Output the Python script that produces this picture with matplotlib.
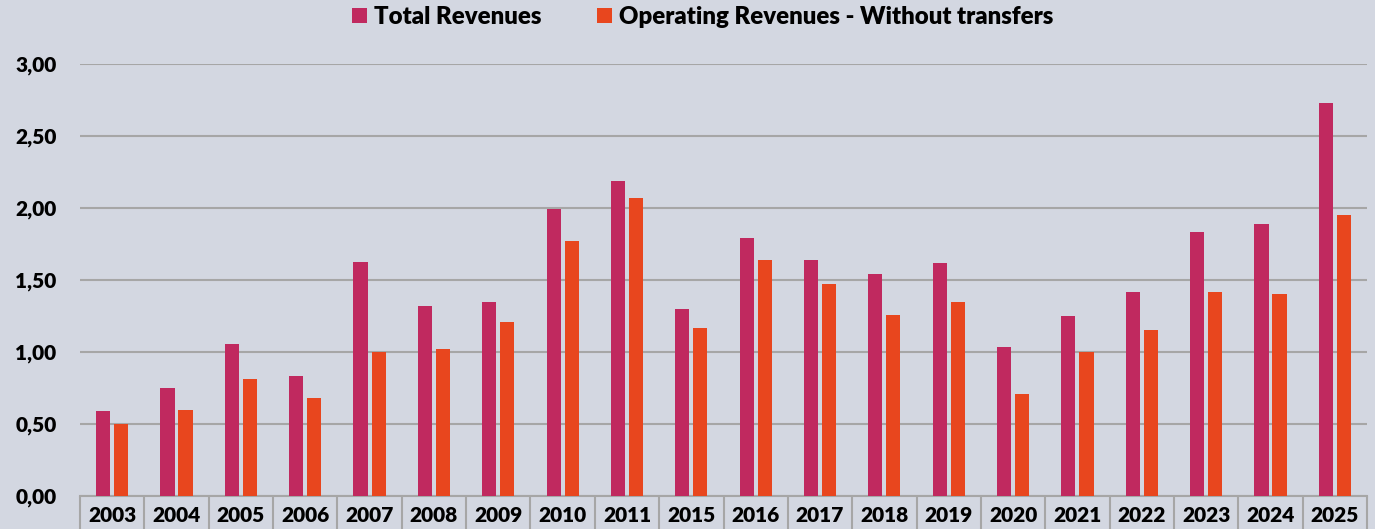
import matplotlib.pyplot as plt
import matplotlib.transforms as mtransforms
import numpy as np

years = ['2003', '2004', '2005', '2006', '2007', '2008', '2009', '2010', '2011', '2015',
         '2016', '2017', '2018', '2019', '2020', '2021', '2022', '2023', '2024', '2025']
total_revenues = [0.59, 0.75, 1.055, 0.83, 1.625, 1.32, 1.35, 1.99, 2.19, 1.30,
                  1.79, 1.64, 1.54, 1.62, 1.035, 1.25, 1.42, 1.83, 1.89, 2.73]
operating_revenues = [0.50, 0.60, 0.81, 0.68, 1.00, 1.02, 1.21, 1.77, 2.07, 1.17,
                      1.64, 1.47, 1.26, 1.35, 0.71, 1.00, 1.15, 1.42, 1.40, 1.95]
yticks = [0, 0.5, 1.0, 1.5, 2.0, 2.5, 3.0]

bg = '#d3d7e1'
grid_col = '#a6a6a6'
c_total = '#c0295f'
c_oper = '#e8461e'

plt.rcParams['font.family'] = ['Lato', 'DejaVu Sans']
plt.rcParams['font.weight'] = 'heavy'
fw = 'heavy'

fig = plt.figure(figsize=(13.75, 5.29), dpi=100, facecolor=bg)
ax = fig.add_axes([80 / 1375, 33 / 529, 1287 / 1375, 432 / 529], facecolor=bg)

x = np.arange(len(years))
w = 0.22
ax.bar(x - 0.14, total_revenues, w, color=c_total, label='Total Revenues', zorder=3)
ax.bar(x + 0.14, operating_revenues, w, color=c_oper, label='Operating Revenues - Without transfers', zorder=3)

ax.set_xlim(-0.5, len(years) - 0.5)
ax.set_ylim(0, 3.0)
ax.set_yticks(yticks)
ax.set_yticklabels([f'{v:.2f}'.replace('.', ',') for v in yticks], fontsize=15, fontweight=fw)
ax.set_xticks(x)
ax.set_xticklabels(years, fontsize=15, fontweight=fw)
ax.tick_params(axis='y', length=0, pad=17)
ax.tick_params(axis='x', length=0, pad=7)

ax.grid(axis='y', color=grid_col, lw=1.5, zorder=0)
for s in ['top', 'right', 'left']:
    ax.spines[s].set_visible(False)
ax.spines['bottom'].set_color(grid_col)
ax.spines['bottom'].set_linewidth(1.5)

# boxed category cells below the axis
trans = mtransforms.blended_transform_factory(ax.transData, ax.transAxes)
edges = np.arange(len(years) + 1) - 0.5
ax.vlines(edges, -0.1, 0, transform=trans, color=grid_col, lw=1.5, clip_on=False)

fig.legend(loc='upper center', bbox_to_anchor=(703 / 1375, 1.03), ncol=2, frameon=False,
           handlelength=0.62, handleheight=0.62, handletextpad=0.3,
           columnspacing=2.3, prop={'weight': fw, 'size': 17.3})

fig.savefig('out.png', dpi=100, facecolor=bg)
